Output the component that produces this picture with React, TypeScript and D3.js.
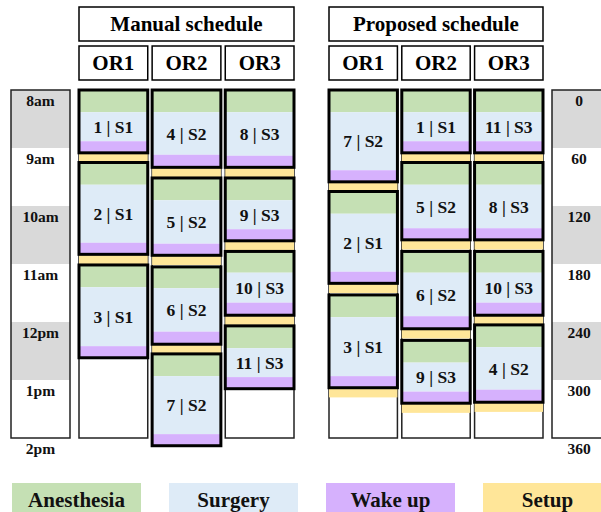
import React from "react";
import * as d3 from "d3";

// ---- data ----
const timeLabels = ["8am", "9am", "10am", "11am", "12pm", "1pm", "2pm"];
const minuteLabels = ["0", "60", "120", "180", "240", "300", "360"];
const tickMinutes = [0, 60, 120, 180, 240, 300, 360];
const rooms = ["OR1", "OR2", "OR3"];

// per-patient phase durations (minutes)
const patientIds = [1, 2, 3, 4, 5, 6, 7, 8, 9, 10, 11];
const surgeonOf = ["S1", "S1", "S1", "S2", "S2", "S2", "S2", "S3", "S3", "S3", "S3"];
const anesthesiaMin = [23, 23, 23, 23, 23, 22, 23, 23, 23, 22, 23];
const surgeryMin = [30, 60, 61, 44, 45, 45, 60, 45, 30, 31, 30];
const wakeMin = [12, 12, 12, 13, 12, 13, 12, 12, 12, 13, 12];
const setupMin = 10;

// schedules: [patient, start minute]
const manualOR1 = [[1, 0], [2, 75], [3, 181]];
const manualOR2 = [[4, 0], [5, 91], [6, 183], [7, 273]];
const manualOR3 = [[8, 0], [9, 91], [10, 167], [11, 244]];
const proposedOR1 = [[7, 0], [2, 105], [3, 212]];
const proposedOR2 = [[1, 0], [5, 75], [6, 167], [9, 259]];
const proposedOR3 = [[11, 0], [8, 75], [10, 167], [4, 243]];

const legendLabels = ["Anesthesia", "Surgery", "Wake up", "Setup"];

const C = {
  anes: "#c5e0b4",
  surg: "#deebf7",
  wake: "#d6b1fd",
  setup: "#ffe699",
  gray: "#d9d9d9",
};
const FONT = "'Liberation Serif', 'Times New Roman', serif";

const y = d3.scaleLinear().domain([0, 360]).range([90, 438]);

function Schedule({ x0, x1, title, cols, setupLast }: any) {
  const xb = d3.scaleBand<string>().domain(rooms).range([x0, x1]).paddingInner(0.06);
  const bw = xb.bandwidth();
  return (
    <g>
      <rect x={x0} y={7} width={x1 - x0} height={34} fill="#fff" stroke="#000" strokeWidth={1.5} />
      <text x={(x0 + x1) / 2} y={24} dy="0.35em" textAnchor="middle" fontFamily={FONT} fontWeight="bold" fontSize={21}>
        {title}
      </text>
      {rooms.map((r, ci) => {
        const cx = xb(r)!;
        const list = cols[ci];
        return (
          <g key={r}>
            <rect x={cx} y={46} width={bw} height={34} fill="#fff" stroke="#000" strokeWidth={1.5} />
            <text x={cx + bw / 2} y={63} dy="0.35em" textAnchor="middle" fontFamily={FONT} fontWeight="bold" fontSize={21}>
              {r}
            </text>
            <rect x={cx} y={y(0)} width={bw} height={y(360) - y(0)} fill="#fff" stroke="#222" strokeWidth={1.5} />
            {list.map(([p, s]: number[], i: number) => {
              const k = p - 1;
              const end = s + anesthesiaMin[k] + surgeryMin[k] + wakeMin[k];
              const last = i === list.length - 1;
              if (last && !setupLast) return null;
              return (
                <rect key={"s" + i} x={cx} y={y(end)} width={bw} height={y(end + setupMin) - y(end)} fill={C.setup} />
              );
            })}
            {list.map(([p, s]: number[], i: number) => {
              const k = p - 1;
              const a = s + anesthesiaMin[k];
              const b = a + surgeryMin[k];
              const e = b + wakeMin[k];
              return (
                <g key={"b" + i}>
                  <rect x={cx} y={y(s)} width={bw} height={y(a) - y(s)} fill={C.anes} />
                  <rect x={cx} y={y(a)} width={bw} height={y(b) - y(a)} fill={C.surg} />
                  <rect x={cx} y={y(b)} width={bw} height={y(e) - y(b)} fill={C.wake} />
                  <rect x={cx} y={y(s)} width={bw} height={y(e) - y(s)} fill="none" stroke="#000" strokeWidth={3} />
                  <text
                    x={cx + bw / 2}
                    y={(y(a) + y(b)) / 2}
                    dy="0.35em"
                    textAnchor="middle"
                    fontFamily={FONT}
                    fontWeight="bold"
                    fontSize={17.5}
                    fill="#111"
                  >
                    {`${patientIds[k]} | ${surgeonOf[k]}`}
                  </text>
                </g>
              );
            })}
          </g>
        );
      })}
    </g>
  );
}

function Axis({ x0, w, labels, withBox }: any) {
  return (
    <g>
      {tickMinutes.slice(0, 6).map((m, i) => (
        <rect key={m} x={x0} y={y(m)} width={w} height={y(m + 60) - y(m)} fill={i % 2 === 0 ? C.gray : "#fff"} />
      ))}
      <rect x={x0} y={y(0)} width={w} height={y(360) - y(0)} fill="none" stroke="#222" strokeWidth={1.5} />
      {labels.map((l: string, i: number) => (
        <text
          key={l}
          x={x0 + (withBox ?? w / 2)}
          y={y(tickMinutes[i]) + 16}
          textAnchor="middle"
          fontFamily={FONT}
          fontWeight="bold"
          fontSize={15.5}
          fill="#111"
        >
          {l}
        </text>
      ))}
    </g>
  );
}

export default function App() {
  const legendColors = [C.anes, C.surg, C.wake, C.setup];
  const legendX = d3.scaleLinear().domain([0, 3]).range([12, 483]);
  return (
    <svg width={601} height={512} style={{ position: "absolute", left: 0, top: 0, background: "#fff" }}>
      <rect width={601} height={512} fill="#fff" />
      <Axis x0={11} w={59} labels={timeLabels} />
      <Axis x0={552} w={60} labels={minuteLabels} withBox={27} />
      <Schedule x0={79} x1={294} title="Manual schedule" cols={[manualOR1, manualOR2, manualOR3]} setupLast={false} />
      <Schedule x0={329} x1={543} title="Proposed schedule" cols={[proposedOR1, proposedOR2, proposedOR3]} setupLast={true} />
      {legendLabels.map((l, i) => (
        <g key={l}>
          <rect x={legendX(i)} y={483} width={129} height={35} fill={legendColors[i]} />
          <text
            x={legendX(i) + 64.5}
            y={507}
            textAnchor="middle"
            fontFamily={FONT}
            fontWeight="bold"
            fontSize={21}
            fill="#111"
          >
            {l}
          </text>
        </g>
      ))}
    </svg>
  );
}
